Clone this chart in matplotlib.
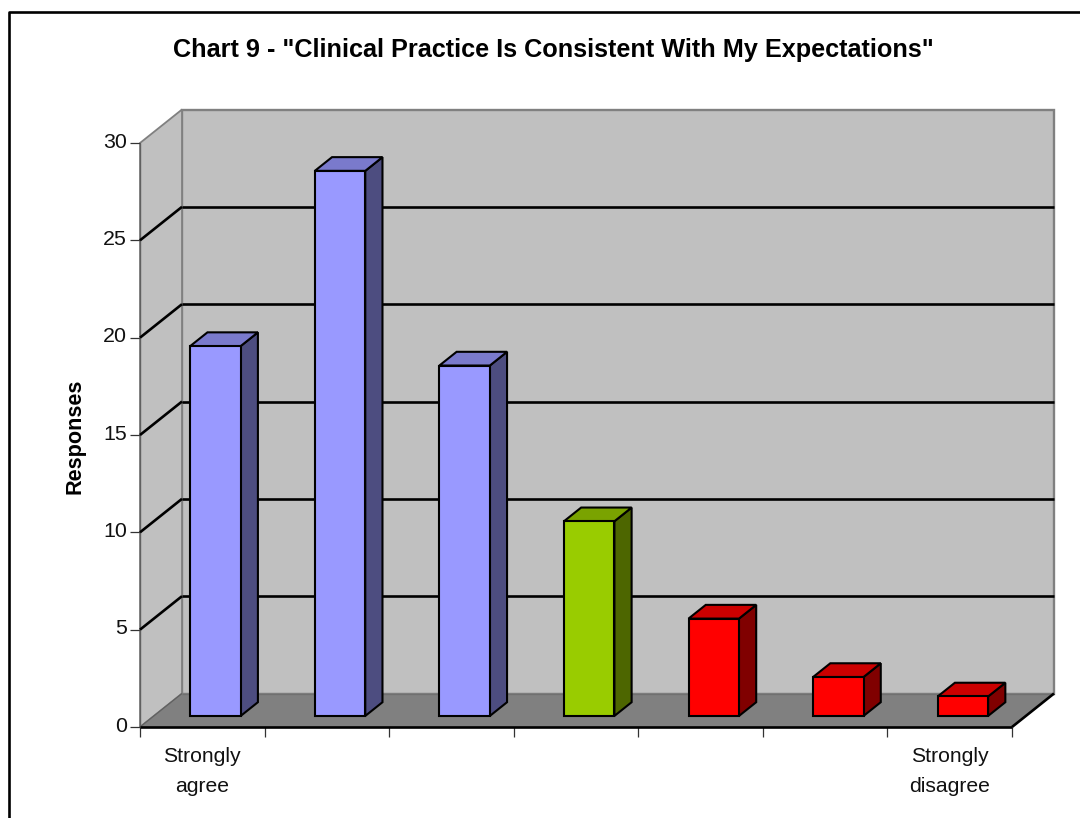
import matplotlib
matplotlib.use("Agg")
import matplotlib.pyplot as plt
from matplotlib.lines import Line2D
from matplotlib.patches import Polygon
from matplotlib.transforms import ScaledTranslation

plt.rcParams["font.family"] = ["Liberation Sans", "DejaVu Sans"]

# Survey results
categories = ["Strongly\nagree", "", "", "", "", "", "Strongly\ndisagree"]
responses = [19, 28, 18, 10, 5, 2, 1]
y_ticks = [0, 5, 10, 15, 20, 25, 30]
title = 'Chart 9 - "Clinical Practice Is Consistent With My Expectations"'
y_label = "Responses"

# Front, top and side colours of each column
BLUE = ("#9999FF", "#7A7ACC", "#4D4D80")
GREEN = ("#99CC00", "#7AA300", "#4D6600")
RED = ("#FF0000", "#CC0000", "#800000")
bar_styles = [BLUE, BLUE, BLUE, GREEN, RED, RED, RED]

W, H = 1080, 818
fig = plt.figure(figsize=(W / 100, H / 100), dpi=100, facecolor="white")

# Axes span the front plane of the 3-D box
left, right, base, top = 140.0, 1012.0, 727.0, 143.0
ax = fig.add_axes([left / W, 1 - base / H, (right - left) / W, (base - top) / H])
n = len(responses)
ax.set_xlim(0, n)
ax.set_ylim(0, 30)
ax.patch.set_visible(False)
for s in ax.spines.values():
    s.set_visible(False)

# Oblique projection: depth d in 0..1 shifts a point toward the back wall
DX = 42 / ((right - left) / n)
DY = 33.5 / ((base - top) / 30)


def pt(x, y, d=0.0):
    return (x + d * DX, y + d * DY)


def poly(points, fc, ec="none", lw=0.0, z=1):
    ax.add_patch(Polygon(points, closed=True, facecolor=fc, edgecolor=ec,
                         linewidth=lw, joinstyle="miter", clip_on=False, zorder=z))


def seg(a, b, color, lw, z=2):
    ax.add_line(Line2D([a[0], b[0]], [a[1], b[1]], color=color, linewidth=lw,
                       clip_on=False, zorder=z, solid_capstyle="butt"))


GRAY = "#808080"
LW = 1.9

# Walls and floor
poly([pt(0, 0, 1), pt(n, 0, 1), pt(n, 30, 1), pt(0, 30, 1)], "#C0C0C0", GRAY, 1.7)
poly([pt(0, 0, 0), pt(0, 0, 1), pt(0, 30, 1), pt(0, 30, 0)], "#C0C0C0", GRAY, 1.3)
poly([pt(0, 0, 0), pt(n, 0, 0), pt(n, 0, 1), pt(0, 0, 1)], GRAY, GRAY, 0.8)
seg(pt(0, 0, 0), pt(0, 30, 0), "#606060", 1.0)
seg(pt(0, 0, 0), pt(0, 0, 1), "#606060", 0.9)
seg(pt(0, 0, 1), pt(n, 0, 1), "#707070", 0.9)

# Gridlines along the side wall and back wall
for v in y_ticks[1:-1]:
    seg(pt(0, v, 0), pt(0, v, 1), "black", LW)
    seg(pt(0, v, 1), pt(n, v, 1), "black", LW)

# Dark floor edges
seg(pt(0, 0, 0), pt(n, 0, 0), "black", 1.9, 3)
seg(pt(n, 0, 0), pt(n, 0, 1), "black", 1.9, 3)

# Columns
BAR_W, D0, D1, INSET = 0.405, 0.33, 0.74, 0.292
for i, (v, (front, cap, side)) in enumerate(zip(responses, bar_styles)):
    x0, x1 = i + INSET, i + INSET + BAR_W
    kw = dict(ec="black", lw=1.5, z=5)
    poly([pt(x1, 0, D0), pt(x1, 0, D1), pt(x1, v, D1), pt(x1, v, D0)], side, **kw)
    poly([pt(x0, v, D0), pt(x1, v, D0), pt(x1, v, D1), pt(x0, v, D1)], cap, **kw)
    poly([pt(x0, 0, D0), pt(x1, 0, D0), pt(x1, v, D0), pt(x0, v, D0)], front, **kw)

# Axis ticks and labels
ax.set_yticks(y_ticks)
ax.set_xticks(range(n + 1))
ax.set_xticklabels([])
ax.set_xticks([i + 0.5 for i in range(n)], minor=True)
ax.set_xticklabels(categories, minor=True, fontsize=15.2, color="#111111", linespacing=1.72)
ax.tick_params(axis="x", which="major", length=7.2, width=0.9, color="#333333")
ax.tick_params(axis="x", which="minor", length=0, pad=14.5)
ax.tick_params(axis="y", length=7.2, width=0.9, color="#333333", labelsize=15.4,
               labelcolor="#111111", pad=2)
nudge = ScaledTranslation(0, 2 / 72, fig.dpi_scale_trans)
for lab in ax.get_yticklabels():
    lab.set_transform(lab.get_transform() + nudge)

fig.text(553.5 / W, 1 - 50 / H, title, ha="center", va="center", fontsize=18.2,
         fontweight="bold", color="black")
fig.text(75 / W, 1 - 436 / H, y_label, ha="center", va="center", rotation=90,
         fontsize=15.6, fontweight="bold", color="black")

# Chart area border, running off the image at the right and bottom
fig.add_artist(Line2D([8.5 / W, 8.5 / W, 1], [0, 1 - 11.5 / H, 1 - 11.5 / H], color="black",
                      linewidth=1.9, transform=fig.transFigure))

fig.savefig("out.png", dpi=100)
